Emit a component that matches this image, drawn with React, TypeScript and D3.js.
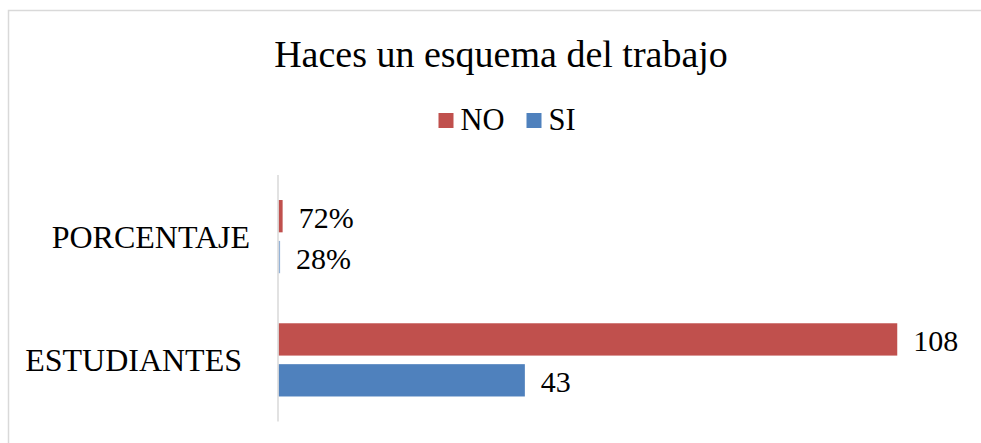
import React from "react";
import * as d3 from "d3";

const categories = ["PORCENTAJE", "ESTUDIANTES"];
const seriesNames = ["NO", "SI"];
const noValues = [0.72, 108];
const siValues = [0.28, 43];
const noLabels = ["72%", "108"];
const siLabels = ["28%", "43"];
const seriesColors = ["#C0504D", "#4F81BD"];

const W = 981;
const H = 443;
const FONT = "Liberation Serif, Tinos, Times New Roman, serif";

export default function App() {
  const x = d3.scaleLinear().domain([0, 120]).range([278.5, 966]);
  const y = d3
    .scaleBand<string>()
    .domain(categories)
    .range([175, 421.5])
    .paddingInner(0.406)
    .paddingOuter(0.203);
  const ys = d3
    .scaleBand<string>()
    .domain(seriesNames)
    .range([0, y.bandwidth()])
    .paddingInner(0.21)
    .paddingOuter(0);

  const seriesVals = [noValues, siValues];
  const seriesLabels = [noLabels, siLabels];
  const catLabelRight: Record<string, number> = { PORCENTAJE: 250, ESTUDIANTES: 242 };
  const ts = { fontFamily: FONT };

  return (
    <svg
      width={W}
      height={H}
      style={{ position: "absolute", left: 0, top: 0, background: "#fff", fontFamily: FONT }}
    >
      <rect x={0} y={0} width={W} height={H} fill="#fff" />
      <rect x={8.5} y={10.5} width={1100} height={600} fill="none" stroke="#d9d9d9" strokeWidth={1.5} />
      <text x={501} y={66.5} textAnchor="middle" fontSize={38} fill="#000" style={ts}>
        Haces un esquema del trabajo
      </text>
      {seriesNames.map((s, i) => {
        const lx = [438.5, 526.5][i];
        return (
          <g key={s}>
            <rect x={lx} y={113} width={15} height={15} fill={seriesColors[i]} />
            <text x={lx + 22} y={129.5} fontSize={30.5} fill="#000" style={ts}>
              {s}
            </text>
          </g>
        );
      })}
      {categories.map((c, ci) => (
        <g key={c}>
          {seriesNames.map((s, si) => {
            const v = seriesVals[si][ci];
            const by = (y(c) ?? 0) + (ys(s) ?? 0);
            const bw = x(v) - x(0);
            return (
              <g key={s}>
                <rect
                  x={x(0)}
                  y={by}
                  width={Math.max(bw, 1.2)}
                  height={ys.bandwidth()}
                  fill={seriesColors[si]}
                  opacity={ci === 0 && si === 1 ? 0.6 : 1}
                />
                <text x={x(v) + 16} y={by + ys.bandwidth() / 2 + 12} fontSize={30} fill="#000" style={ts}>
                  {seriesLabels[si][ci]}
                </text>
              </g>
            );
          })}
          <text
            x={catLabelRight[c]}
            y={(y(c) ?? 0) + y.bandwidth() / 2 + 11}
            textAnchor="end"
            fontSize={32}
            fill="#000"
            style={ts}
          >
            {c}
          </text>
        </g>
      ))}
      <line x1={278} x2={278} y1={175} y2={421.5} stroke="#d9d9d9" strokeWidth={1.5} />
    </svg>
  );
}
